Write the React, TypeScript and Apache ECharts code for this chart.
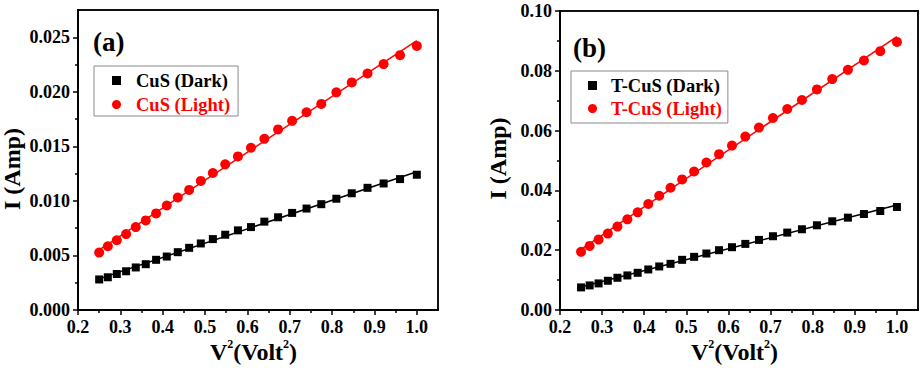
import React, { useEffect, useRef } from "react";
import * as echarts from "echarts";

// V^2 values (Volt^2)
const v2 = [0.25, 0.2704, 0.2916, 0.3136, 0.3364, 0.36, 0.3844, 0.4096, 0.4356, 0.4624, 0.49, 0.5184, 0.5476, 0.5776, 0.6084, 0.64, 0.6724, 0.7056, 0.7396, 0.7744, 0.81, 0.8464, 0.8836, 0.9216, 0.9604, 1.0];

// Panel (a) CuS
const cusDark = [0.0028, 0.0030, 0.0033, 0.00355, 0.0039, 0.0042, 0.0046, 0.0049, 0.0053, 0.0057, 0.0061, 0.0065, 0.0069, 0.0073, 0.0076, 0.0081, 0.0085, 0.0089, 0.0093, 0.0097, 0.0102, 0.0107, 0.0112, 0.0116, 0.0120, 0.0124];
const cusLight = [0.00526, 0.00584, 0.00639, 0.00696, 0.0076, 0.00821, 0.00885, 0.00958, 0.01031, 0.01101, 0.01183, 0.01256, 0.01335, 0.01408, 0.01487, 0.01569, 0.01655, 0.01734, 0.01813, 0.01889, 0.01995, 0.02086, 0.02168, 0.02254, 0.02336, 0.02421];

// Panel (b) T-CuS
const tcusDark = [0.00756, 0.00822, 0.00889, 0.00978, 0.01078, 0.01156, 0.01244, 0.01356, 0.01456, 0.01544, 0.01678, 0.01778, 0.01889, 0.0200, 0.0210, 0.02211, 0.02344, 0.02467, 0.02589, 0.0270, 0.02833, 0.02967, 0.03089, 0.03211, 0.03311, 0.03444];
const tcusLight = [0.01944, 0.02144, 0.02356, 0.02556, 0.02789, 0.03033, 0.03267, 0.03544, 0.03822, 0.04089, 0.04367, 0.04633, 0.04933, 0.05211, 0.055, 0.058, 0.061, 0.06422, 0.06722, 0.07022, 0.07378, 0.07722, 0.08033, 0.08344, 0.08656, 0.08967];

// Tick positions
const xMajor = [0.2, 0.3, 0.4, 0.5, 0.6, 0.7, 0.8, 0.9, 1.0];
const xMinor = [0.25, 0.35, 0.45, 0.55, 0.65, 0.75, 0.85, 0.95];
const yMajorA = [0, 0.005, 0.01, 0.015, 0.02, 0.025];
const yMinorA = [0.0025, 0.0075, 0.0125, 0.0175, 0.0225];
const yMajorB = [0, 0.02, 0.04, 0.06, 0.08, 0.1];
const yMinorB = [0.01, 0.03, 0.05, 0.07, 0.09];

const FONT = '"Liberation Serif", "Times New Roman", serif';
const RED = "#ff0000";
const BLACK = "#000000";

function fit(xs: number[], ys: number[]): number[][] {
  const n = xs.length;
  let sx = 0, sy = 0, sxx = 0, sxy = 0;
  for (let i = 0; i < n; i++) {
    sx += xs[i]; sy += ys[i]; sxx += xs[i] * xs[i]; sxy += xs[i] * ys[i];
  }
  const b = (n * sxy - sx * sy) / (n * sxx - sx * sx);
  const a = (sy - b * sx) / n;
  const x0 = xs[0], x1 = xs[n - 1];
  return [[x0, a + b * x0], [x1, a + b * x1]];
}

const pairs = (xs: number[], ys: number[]) => xs.map((x, i) => [x, ys[i]]);

const labelStyle = { color: BLACK, fontFamily: FONT, fontWeight: "bold" as const, fontSize: 18 };

function xAxes(gridIndex: number) {
  const xName = "{b|V}{s|2}{b|(Volt}{s|2}{b|)}";
  return [
    {
      type: "value", gridIndex, min: 0.2, max: 1.05, position: "bottom",
      axisLine: { show: true, onZero: false, lineStyle: { color: BLACK, width: 2 } },
      axisTick: { show: true, inside: false, length: 5, customValues: xMajor, lineStyle: { color: BLACK, width: 1.5 } },
      axisLabel: { ...labelStyle, margin: 8, customValues: xMajor, formatter: (v: number) => v.toFixed(1) },
      splitLine: { show: false },
      name: xName, nameLocation: "middle", nameGap: 28, nameMoveOverlap: false,
      nameTextStyle: {
        padding: [0, 9, 0, 0],
        rich: {
          b: { fontFamily: FONT, fontWeight: "bold", fontSize: 24, color: BLACK, lineHeight: 26, verticalAlign: "bottom" },
          s: { fontFamily: FONT, fontWeight: "bold", fontSize: 12, color: BLACK, lineHeight: 26, verticalAlign: "top" },
        },
      },
    },
    {
      type: "value", gridIndex, min: 0.2, max: 1.05, position: "bottom",
      axisLine: { show: false },
      axisTick: { show: true, inside: false, length: 3, customValues: xMinor, lineStyle: { color: BLACK, width: 1.5 } },
      axisLabel: { show: false },
      splitLine: { show: false },
    },
  ];
}

function yAxes(gridIndex: number, max: number, major: number[], minor: number[], digits: number, gap: number, namePad: number[]) {
  return [
    {
      type: "value", gridIndex, min: 0, max, position: "left",
      axisLine: { show: true, onZero: false, lineStyle: { color: BLACK, width: 2 } },
      axisTick: { show: true, inside: false, length: 5, customValues: major, lineStyle: { color: BLACK, width: 1.5 } },
      axisLabel: { ...labelStyle, margin: 8, customValues: major, formatter: (v: number) => v.toFixed(digits) },
      splitLine: { show: false },
      name: "I (Amp)", nameLocation: "middle", nameGap: gap, nameRotate: 90, nameMoveOverlap: false,
      nameTextStyle: { fontFamily: FONT, fontWeight: "bold", fontSize: 24, color: BLACK, padding: namePad },
    },
    {
      type: "value", gridIndex, min: 0, max, position: "left",
      axisLine: { show: false },
      axisTick: { show: true, inside: false, length: 3, customValues: minor, lineStyle: { color: BLACK, width: 1.5 } },
      axisLabel: { show: false },
      splitLine: { show: false },
    },
  ];
}

function legend(left: number, top: number, names: string[], padding: number[], itemGap: number, textPad: number) {
  return {
    orient: "vertical", left, top, padding, itemGap,
    itemWidth: 9, itemHeight: 9,
    borderColor: "#8a8a8a", borderWidth: 1, backgroundColor: "#ffffff",
    textStyle: { fontFamily: FONT, fontWeight: "bold", fontSize: 18.5, padding: [0, 0, 0, textPad] },
    data: [
      { name: names[0], icon: "rect", textStyle: { color: BLACK } },
      { name: names[1], icon: "circle", textStyle: { color: RED } },
    ],
  };
}

export default function App() {
  const ref = useRef<HTMLDivElement>(null);
  useEffect(() => {
    if (!ref.current) return;
    const chart = echarts.init(ref.current, null, { renderer: "svg" });
    const option = {
      animation: false,
      backgroundColor: "#ffffff",
      grid: [
        { left: 78, top: 10, width: 360, height: 300, outerBoundsMode: "none", containLabel: false, show: true, borderColor: "#111111", borderWidth: 2, backgroundColor: "transparent" },
        { left: 560, top: 11, width: 358, height: 299, outerBoundsMode: "none", containLabel: false, show: true, borderColor: "#111111", borderWidth: 2, backgroundColor: "transparent" },
      ],
      xAxis: [...xAxes(0), ...xAxes(1)],
      yAxis: [
        ...yAxes(0, 0.0275, yMajorA, yMinorA, 3, 54, [0, 18, 0, 0]),
        ...yAxes(1, 0.1, yMajorB, yMinorB, 2, 50, [0, 0, 0, 4]),
      ],
      legend: [
        legend(94, 66, ["CuS (Dark)", "CuS (Light)"], [5, 8, 2, 18], 5, 10),
        legend(571, 71, ["T-CuS (Dark)", "T-CuS (Light)"], [5, 6, 5, 17], 4, 9),
      ],
      graphic: [
        { type: "text", left: 93, top: 28, style: { text: "(a)", fontFamily: FONT, fontWeight: "bold", fontSize: 27, fill: BLACK } },
        { type: "text", left: 573, top: 34, style: { text: "(b)", fontFamily: FONT, fontWeight: "bold", fontSize: 27, fill: BLACK } },
      ],
      series: [
        { type: "line", xAxisIndex: 0, yAxisIndex: 0, data: fit(v2, cusDark), showSymbol: false, symbol: "none", lineStyle: { color: BLACK, width: 1.5 }, silent: true, z: 1 },
        { type: "line", xAxisIndex: 0, yAxisIndex: 0, data: fit(v2, cusLight), showSymbol: false, symbol: "none", lineStyle: { color: RED, width: 1.5 }, silent: true, z: 1 },
        { name: "CuS (Dark)", type: "scatter", xAxisIndex: 0, yAxisIndex: 0, data: pairs(v2, cusDark), symbol: "rect", symbolSize: 8, itemStyle: { color: BLACK, opacity: 1 }, z: 2 },
        { name: "CuS (Light)", type: "scatter", xAxisIndex: 0, yAxisIndex: 0, data: pairs(v2, cusLight), symbol: "circle", symbolSize: 10, itemStyle: { color: RED, opacity: 1 }, z: 2 },
        { type: "line", xAxisIndex: 2, yAxisIndex: 2, data: fit(v2, tcusDark), showSymbol: false, symbol: "none", lineStyle: { color: BLACK, width: 1.5 }, silent: true, z: 1 },
        { type: "line", xAxisIndex: 2, yAxisIndex: 2, data: fit(v2, tcusLight), showSymbol: false, symbol: "none", lineStyle: { color: RED, width: 1.5 }, silent: true, z: 1 },
        { name: "T-CuS (Dark)", type: "scatter", xAxisIndex: 2, yAxisIndex: 2, data: pairs(v2, tcusDark), symbol: "rect", symbolSize: 8, itemStyle: { color: BLACK, opacity: 1 }, z: 2 },
        { name: "T-CuS (Light)", type: "scatter", xAxisIndex: 2, yAxisIndex: 2, data: pairs(v2, tcusLight), symbol: "circle", symbolSize: 10, itemStyle: { color: RED, opacity: 1 }, z: 2 },
      ],
    };
    chart.setOption(option as any);
    return () => chart.dispose();
  }, []);
  return <div ref={ref} style={{ position: "fixed", left: 0, top: 0, width: 924, height: 370 }} />;
}
